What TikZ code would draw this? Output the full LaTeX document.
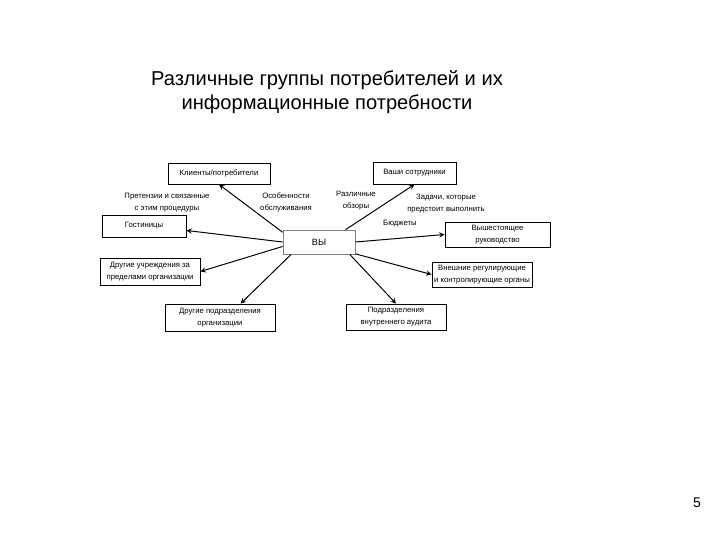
\documentclass[tikz,border=0pt]{standalone}
\usepackage{fontspec}
\setmainfont{Liberation Sans}
\usetikzlibrary{arrows}
\newcommand{\piccolo}{\fontsize{5.5}{8.5}\selectfont}

\begin{document}
\begin{tikzpicture}[>=stealth, x=0.025cm, y=-0.025cm,
  casella/.style 2 args={draw, line width=0.6pt, fill=white, align=center, inner sep=1pt,
    font=\piccolo, minimum width=#1cm, minimum height=#2cm},
  nota/.style={align=center, inner sep=0pt, font=\piccolo},
  freccia/.style={->, line width=0.7pt}]
  \useasboundingbox (0,0) rectangle (720,540);
  \node[align=center, font=\fontsize{14.3}{17.5}\selectfont] (titolo) at (327,92)
    {Различные группы потребителей и их\\информационные потребности};
  \node[casella={1.8}{0.6}, draw=gray, font=\fontsize{6.5}{8.5}\selectfont] (vy) at (319,242) {ВЫ};
  \node[casella={2.55}{0.525}] (kli) at (219,173.5) {Клиенты/потребители};
  \node[casella={2.075}{0.55}] (sotr) at (414.5,173) {Ваши сотрудники};
  \node[casella={2.1}{0.55}] (gost) at (144,226) {Гостиницы};
  \node[casella={2.625}{0.625}] (ruk) at (497.5,234.5) {Вышестоящее\\руководство};
  \node[casella={2.5}{0.675}] (uchr) at (150,271.5) {Другие учреждения за\\пределами организации};
  \node[casella={2.5}{0.625}] (vnesh) at (482,274.5) {Внешние регулирующие\\и контролирующие органы};
  \node[casella={2.75}{0.675}] (podr) at (220,317.5) {Другие подразделения\\организации};
  \node[casella={2.5}{0.65}] (audit) at (396,317) {Подразделения\\внутреннего аудита};
  \node[nota] (pretenz) at (167,203) {Претензии и связанные\\с этим процедуры};
  \node[nota] (osob) at (286,202.5) {Особенности\\обслуживания};
  \node[nota] (obzor) at (356,201) {Различные\\обзоры};
  \node[nota] (zadachi) at (446,204) {Задачи, которые\\предстоит выполнить};
  \node[nota] (budzh) at (400,224) {Бюджеты};
  \foreach \da/\a in {165/kli.south, 25/sotr.south, 180/gost.-6, 0/ruk.west,
    187/uchr.east, 204/podr.34, -18/vnesh.west, -22/audit.north}
    \draw[freccia] (vy.\da) -- (\a);
  \node[font=\fontsize{10}{12}\selectfont] (pagina) at (697,503) {5};
\end{tikzpicture}
\end{document}
